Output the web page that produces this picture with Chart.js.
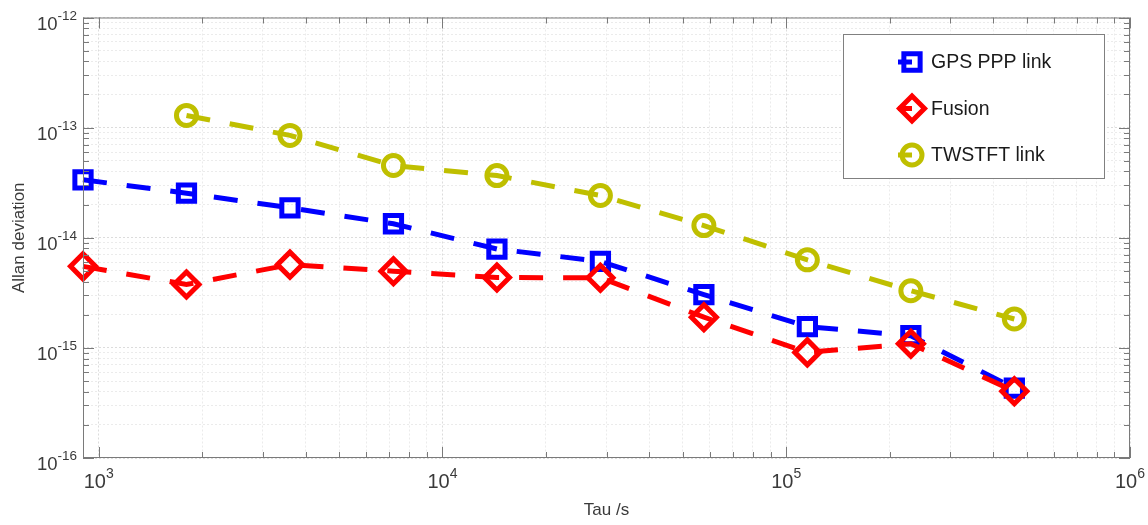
<!DOCTYPE html>
<html>
<head>
<meta charset="utf-8">
<script src="https://cdn.jsdelivr.net/npm/chart.js@4/dist/chart.umd.min.js"></script>
<style>
  html, body { margin: 0; padding: 0; background: #fff; }
  #wrap { width: 1148px; height: 525px; }
</style>
</head>
<body>
<div id="wrap"><canvas id="c"></canvas></div>
<script>
const tau = [900, 1800, 3600, 7200, 14400, 28800, 57600, 115200, 230400, 460800];
const gpsPpp = [3.36e-14, 2.54e-14, 1.87e-14, 1.34e-14, 7.9e-15, 6.1e-15, 3.05e-15, 1.56e-15, 1.29e-15, 4.3e-16];
const fusion = [5.5e-15, 3.76e-15, 5.7e-15, 4.97e-15, 4.35e-15, 4.33e-15, 1.9e-15, 9.1e-16, 1.09e-15, 4.04e-16];
// TWSTFT starts at the second tau
const twstftTau = tau.slice(1);
const twstft = [1.29e-13, 8.5e-14, 4.53e-14, 3.67e-14, 2.42e-14, 1.29e-14, 6.3e-15, 3.3e-15, 1.83e-15];

const xDecades = [2, 3, 4, 5, 6];
const yDecades = [-16, -15, -14, -13, -12];

const FONT = "'Liberation Sans', Arial, sans-serif";
const LABEL_COLOR = '#3a3a3a';

const isDecade = (v) => Math.abs(Math.log10(v) - Math.round(Math.log10(v))) < 1e-9;

function logTicks(scale, decades) {
  const ticks = [];
  decades.forEach((d) => {
    for (let m = 1; m <= 9; m++) {
      const v = m * Math.pow(10, d);
      if (v >= scale.min * 0.9999 && v <= scale.max * 1.0001) ticks.push({ value: v, major: m === 1 });
    }
  });
  scale.ticks = ticks;
}

const pts = (xs, ys) => xs.map((x, i) => ({ x, y: ys[i] }));

// box, inward ticks on all four sides and 10^n labels with real superscripts
const boxAndTicks = {
  id: 'boxAndTicks',
  afterDraw(chart) {
    const { ctx, chartArea: a, scales } = chart;
    ctx.save();
    ctx.strokeStyle = '#7a7a7a';
    ctx.lineWidth = 1;
    ctx.setLineDash([]);
    ctx.strokeRect(a.left + 0.5, a.top + 0.5, a.right - a.left - 1, a.bottom - a.top - 1);
    ctx.beginPath();
    scales.x.ticks.forEach((t) => {
      const px = Math.round(scales.x.getPixelForValue(t.value)) + 0.5;
      const len = isDecade(t.value) ? 11 : 6;
      ctx.moveTo(px, a.bottom); ctx.lineTo(px, a.bottom - len);
      ctx.moveTo(px, a.top); ctx.lineTo(px, a.top + len);
    });
    scales.y.ticks.forEach((t) => {
      const py = Math.round(scales.y.getPixelForValue(t.value)) + 0.5;
      const len = isDecade(t.value) ? 11 : 6;
      ctx.moveTo(a.left, py); ctx.lineTo(a.left + len, py);
      ctx.moveTo(a.right, py); ctx.lineTo(a.right - len, py);
    });
    ctx.stroke();

    ctx.fillStyle = LABEL_COLOR;
    ctx.textBaseline = 'alphabetic';
    ctx.textAlign = 'left';
    scales.x.ticks.filter((t) => isDecade(t.value)).forEach((t) => {
      const px = scales.x.getPixelForValue(t.value);
      const exp = String(Math.round(Math.log10(t.value)));
      ctx.font = '20px ' + FONT;
      const wBase = ctx.measureText('10').width;
      ctx.font = '14px ' + FONT;
      const wExp = ctx.measureText(exp).width;
      const x0 = px - (wBase + wExp) / 2;
      ctx.font = '20px ' + FONT;
      ctx.fillText('10', x0, a.bottom + 30);
      ctx.font = '14px ' + FONT;
      ctx.fillText(exp, x0 + wBase, a.bottom + 20);
    });
    scales.y.ticks.filter((t) => isDecade(t.value)).forEach((t) => {
      const py = scales.y.getPixelForValue(t.value);
      const exp = String(Math.round(Math.log10(t.value)));
      ctx.font = '13.5px ' + FONT;
      const wExp = ctx.measureText(exp).width;
      ctx.font = '18.5px ' + FONT;
      const wBase = ctx.measureText('10').width;
      const xr = a.left - 6;
      ctx.fillText('10', xr - wExp - wBase, py + 12);
      ctx.font = '13.5px ' + FONT;
      ctx.fillText(exp, xr - wExp, py + 2);
    });
    ctx.restore();
  }
};

function drawMarker(ctx, style, x, y, r) {
  ctx.beginPath();
  if (style === 'rect') {
    const s = r * Math.SQRT1_2;
    ctx.rect(x - s, y - s, 2 * s, 2 * s);
  } else if (style === 'rectRot') {
    ctx.moveTo(x, y - r); ctx.lineTo(x + r, y); ctx.lineTo(x, y + r); ctx.lineTo(x - r, y); ctx.closePath();
  } else {
    ctx.arc(x, y, r, 0, Math.PI * 2);
  }
  ctx.stroke();
}

const boxLegend = {
  id: 'boxLegend',
  afterDraw(chart) {
    const ctx = chart.ctx;
    const bx = 843, by = 34, bw = 261, bh = 144;
    ctx.save();
    ctx.fillStyle = '#fff';
    ctx.fillRect(bx, by, bw, bh);
    ctx.strokeStyle = '#808080';
    ctx.lineWidth = 1;
    ctx.strokeRect(bx + 0.5, by + 0.5, bw, bh);
    chart.data.datasets.forEach((ds, i) => {
      const y = 62 + i * 46.5;
      ctx.strokeStyle = ds.borderColor;
      ctx.lineWidth = 5;
      ctx.beginPath(); ctx.moveTo(898, y); ctx.lineTo(912, y); ctx.stroke();
      drawMarker(ctx, ds.pointStyle, 912, y, ds.pointRadius);
      ctx.fillStyle = '#1a1a1a';
      ctx.font = '19.5px ' + FONT;
      ctx.textBaseline = 'middle';
      ctx.fillText(ds.label, 931, y + 1);
    });
    ctx.restore();
  }
};

const lineStyle = { borderWidth: 5, borderDash: [24, 20], pointBorderWidth: 5,
  pointBackgroundColor: 'rgba(0,0,0,0)', pointHoverRadius: 0, fill: false, tension: 0, clip: false };

new Chart(document.getElementById('c'), {
  type: 'line',
  data: {
    datasets: [
      { ...lineStyle, label: 'GPS PPP link', data: pts(tau, gpsPpp), borderColor: '#0000ff',
        pointBorderColor: '#0000ff', pointStyle: 'rect', pointRadius: 11.5, order: 3 },
      { ...lineStyle, label: 'Fusion', data: pts(tau, fusion), borderColor: '#ff0000',
        pointBorderColor: '#ff0000', pointStyle: 'rectRot', pointRadius: 12.5, order: 2 },
      { ...lineStyle, label: 'TWSTFT link', data: pts(twstftTau, twstft), borderColor: '#bfbf00',
        pointBorderColor: '#bfbf00', pointStyle: 'circle', pointRadius: 10, order: 1 },
    ],
  },
  options: {
    responsive: true,
    maintainAspectRatio: false,
    animation: false,
    events: [],
    layout: { padding: { top: 17, right: 18, left: 0, bottom: 0 } },
    plugins: { legend: { display: false }, tooltip: { enabled: false } },
    scales: {
      x: {
        type: 'logarithmic',
        min: 900,
        max: 1e6,
        afterBuildTicks: (s) => logTicks(s, xDecades),
        afterFit: (s) => { s.height = 67; },
        grid: {
          drawTicks: false,
          color: (c) => (c.tick && isDecade(c.tick.value) ? '#dcdcdc' : '#ebebeb'),
        },
        border: { display: false, dash: [2, 2] },
        ticks: { display: false, autoSkip: false },
        title: { display: true, text: 'Tau /s', color: LABEL_COLOR, font: { family: FONT, size: 17 }, padding: { top: 4, bottom: 4 } },
      },
      y: {
        type: 'logarithmic',
        min: 1e-16,
        max: 1e-12,
        afterBuildTicks: (s) => logTicks(s, yDecades),
        afterFit: (s) => { s.width = 83; },
        grid: {
          drawTicks: false,
          color: (c) => (c.tick && isDecade(c.tick.value) ? '#dcdcdc' : '#ebebeb'),
        },
        border: { display: false, dash: [2, 2] },
        ticks: { display: false, autoSkip: false },
        title: { display: true, text: 'Allan deviation', color: LABEL_COLOR, font: { family: FONT, size: 17 }, padding: { top: 9 } },
      },
    },
  },
  plugins: [boxAndTicks, boxLegend],
});
</script>
</body>
</html>
